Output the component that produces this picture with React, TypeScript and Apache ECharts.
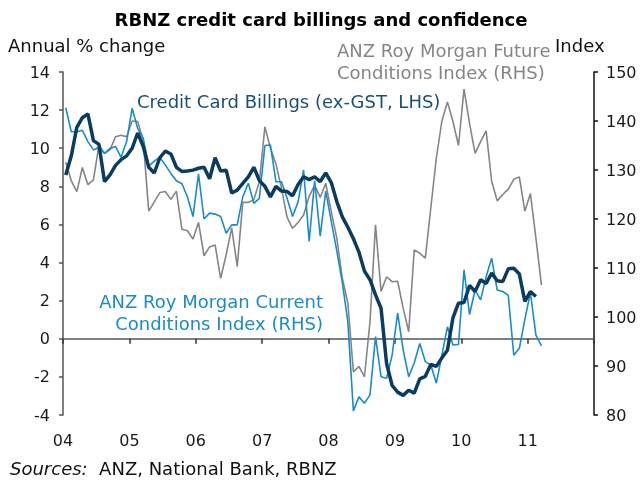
import React, { useEffect, useRef } from "react";
import * as echarts from "echarts";

const startYear = 2004;
const endYear = 2012;
const yearLabels = ["04", "05", "06", "07", "08", "09", "10", "11"];
const leftTicks = [-4, 14, 2];
const rightTicks = [80, 150, 10];

// Monthly, from Jan 2004 (annual % change, LHS)
const creditCard = [
  8.6, 9.6, 11.1, 11.6, 11.8, 10.4, 10.2, 8.25, 8.6, 9.1, 9.4, 9.6,
  10.0, 10.8, 10.1, 9.0, 8.7, 9.5, 9.85, 9.7, 9.0, 8.78, 8.8, 8.85,
  8.95, 9.0, 8.4, 9.5, 8.8, 8.85, 7.65, 7.8, 8.15, 8.5, 9.0, 8.3,
  8.0, 7.45, 8.0, 7.75, 7.73, 7.5, 8.1, 8.5, 8.35, 8.5, 8.25, 8.7,
  8.2, 7.2, 6.4, 5.85, 5.25, 4.55, 3.55, 3.1, 2.3, 1.6, -1.3, -2.45,
  -2.8, -2.97, -2.7, -2.85, -2.1, -1.97, -1.35, -1.45, -1.0, -0.6, 1.1, 1.87,
  1.9, 2.8, 2.48, 3.1, 2.9, 3.45, 3.05, 3.0, 3.67, 3.7, 3.4, 1.96,
  2.48, 2.22,
];

// Monthly, from Jan 2004 (index, RHS)
const futureConditions = [
  131.6, 127.8, 125.6, 130.5, 127.0, 128.0, 135.1, 133.4, 134.1, 136.8, 137.1, 136.8,
  140.0, 139.9, 136.1, 121.6, 123.5, 125.4, 125.6, 124.0, 125.7, 117.9, 117.6, 115.9,
  119.3, 112.5, 114.3, 114.7, 107.9, 112.7, 118.2, 110.3, 123.4, 123.4, 123.9, 127.6,
  138.8, 134.5, 131.2, 126.3, 120.4, 118.1, 119.3, 120.8, 124.6, 126.9, 124.4, 127.3,
  121.5, 116.1, 107.9, 102.8, 88.8, 89.9, 87.8, 99.0, 118.8, 105.2, 108.2, 107.2,
  107.3, 101.8, 97.0, 113.7, 113.0, 112.0, 122.3, 132.5, 140.0, 143.9, 139.9, 135.0,
  146.5, 139.5, 133.4, 135.8, 138.0, 127.7, 123.7, 125.0, 126.1, 128.1, 128.6, 121.6,
  125.2, 116.1, 106.5,
];

const currentConditions = [
  142.7, 137.8, 137.8, 138.1, 135.8, 134.1, 134.6, 133.4, 134.4, 134.8, 132.6, 135.8,
  142.6, 138.5, 136.5, 130.8, 131.8, 132.6, 131.0, 129.3, 127.8, 127.2, 124.5, 120.5,
  129.2, 120.0, 121.2, 121.0, 120.5, 117.1, 118.8, 118.8, 124.5, 127.3, 123.2, 124.2,
  135.0, 135.1, 127.6, 127.6, 124.3, 120.5, 123.5, 130.0, 115.4, 127.8, 116.5, 125.7,
  119.5, 113.5, 107.0, 99.0, 80.8, 83.7, 82.4, 84.1, 96.0, 87.8, 87.5, 92.2,
  100.8, 93.3, 87.8, 90.6, 94.6, 90.9, 90.2, 86.5, 92.2, 98.0, 94.3, 94.4,
  109.6, 100.5, 105.5, 103.5, 108.2, 112.0, 105.5, 105.2, 104.4, 92.2, 93.6, 99.5,
  105.0, 96.3, 94.1,
];

const toPairs = (vals: number[]) =>
  vals.map((v, i) => [startYear + (i + 0.5) / 12, v]);

const FONT = "DejaVu Sans";
const NAVY = "#0b3c5f";
const BLUE = "#1a8bcb";
const GRAY = "#858585";

export default function App() {
  const ref = useRef<HTMLDivElement>(null);
  useEffect(() => {
    if (!ref.current) return;
    const chart = echarts.init(ref.current, undefined, { renderer: "svg" });
    const xBase = {
      type: "value" as const,
      min: startYear,
      max: endYear,
      interval: 1,
      splitLine: { show: false },
    };
    chart.setOption({
      animation: false,
      grid: { left: 63, right: 47, top: 72, bottom: 67 },
      xAxis: [
        {
          ...xBase,
          axisLine: { show: true, onZero: true, onZeroAxisIndex: 0, lineStyle: { color: "#555", width: 1.5 } },
          axisTick: { show: true, inside: false, length: 5, lineStyle: { color: "#333", width: 1.5 } },
          axisLabel: { show: false },
        },
        {
          ...xBase,
          position: "bottom",
          axisLine: { show: false, onZero: false },
          axisTick: { show: false },
          axisLabel: {
            show: true,
            margin: 17,
            color: "#1a1a1a",
            fontFamily: FONT,
            fontSize: 16,
            formatter: (v: number) => {
              const idx = Math.round(v) - startYear;
              return idx >= 0 && idx < yearLabels.length ? yearLabels[idx] : "";
            },
          },
        },
      ],
      yAxis: [
        {
          type: "value",
          position: "left",
          min: leftTicks[0],
          max: leftTicks[1],
          interval: leftTicks[2],
          splitLine: { show: false },
          axisLine: { show: true, lineStyle: { color: "#555", width: 1.5 } },
          axisTick: { show: true, inside: false, length: 4, lineStyle: { color: "#555", width: 1.5 } },
          axisLabel: { margin: 13, color: "#1a1a1a", fontFamily: FONT, fontSize: 16 },
        },
        {
          type: "value",
          position: "right",
          min: rightTicks[0],
          max: rightTicks[1],
          interval: rightTicks[2],
          splitLine: { show: false },
          axisLine: { show: true, onZero: false, lineStyle: { color: "#111", width: 1.5 } },
          axisTick: { show: true, inside: false, length: 4, lineStyle: { color: "#111", width: 1.5 } },
          axisLabel: { margin: 12, color: "#1a1a1a", fontFamily: FONT, fontSize: 16 },
        },
      ],
      series: [
        {
          name: "Future",
          type: "line",
          xAxisIndex: 0,
          yAxisIndex: 1,
          data: toPairs(futureConditions),
          showSymbol: false,
          lineStyle: { color: GRAY, width: 1.6 },
          z: 2,
        },
        {
          name: "Current",
          type: "line",
          xAxisIndex: 0,
          yAxisIndex: 1,
          data: toPairs(currentConditions),
          showSymbol: false,
          lineStyle: { color: BLUE, width: 1.6 },
          z: 3,
        },
        {
          name: "Credit card",
          type: "line",
          xAxisIndex: 0,
          yAxisIndex: 0,
          data: toPairs(creditCard),
          showSymbol: false,
          lineStyle: { color: NAVY, width: 3.5 },
          z: 4,
        },
      ],
      graphic: [
        {
          type: "text",
          x: 321,
          y: 19,
          style: {
            text: "RBNZ credit card billings and confidence",
            font: `bold 18px "${FONT}"`,
            fill: "#000",
            textAlign: "center",
            textVerticalAlign: "middle",
          },
        },
        {
          type: "text",
          x: 8,
          y: 45,
          style: { text: "Annual % change", font: `18px "${FONT}"`, fill: "#111", textVerticalAlign: "middle" },
        },
        {
          type: "text",
          x: 555,
          y: 45,
          style: { text: "Index", font: `18px "${FONT}"`, fill: "#111", textVerticalAlign: "middle" },
        },
        {
          type: "text",
          x: 337,
          y: 50,
          style: { text: "ANZ Roy Morgan Future", font: `18px "${FONT}"`, fill: GRAY, textVerticalAlign: "middle" },
        },
        {
          type: "text",
          x: 337,
          y: 72,
          style: { text: "Conditions Index (RHS)", font: `18px "${FONT}"`, fill: GRAY, textVerticalAlign: "middle" },
        },
        {
          type: "text",
          x: 137,
          y: 101,
          style: { text: "Credit Card Billings (ex-GST, LHS)", font: `18px "${FONT}"`, fill: "#1b4e76", textVerticalAlign: "middle" },
        },
        {
          type: "text",
          x: 323,
          y: 301,
          style: { text: "ANZ Roy Morgan Current", font: `18px "${FONT}"`, fill: BLUE, textAlign: "right", textVerticalAlign: "middle" },
        },
        {
          type: "text",
          x: 323,
          y: 323,
          style: { text: "Conditions Index (RHS)", font: `18px "${FONT}"`, fill: BLUE, textAlign: "right", textVerticalAlign: "middle" },
        },
        {
          type: "text",
          x: 10,
          y: 468,
          style: {
            text: "{i|Sources:}  ANZ, National Bank, RBNZ",
            font: `18px "${FONT}"`,
            fill: "#111",
            textVerticalAlign: "middle",
            rich: { i: { fontStyle: "italic", fontFamily: FONT, fontSize: 18, fill: "#111" } },
          },
        },
      ],
    });
    return () => chart.dispose();
  }, []);
  return (
    <div
      ref={ref}
      style={{ position: "fixed", left: 0, top: 0, width: 641, height: 482 }}
    />
  );
}
